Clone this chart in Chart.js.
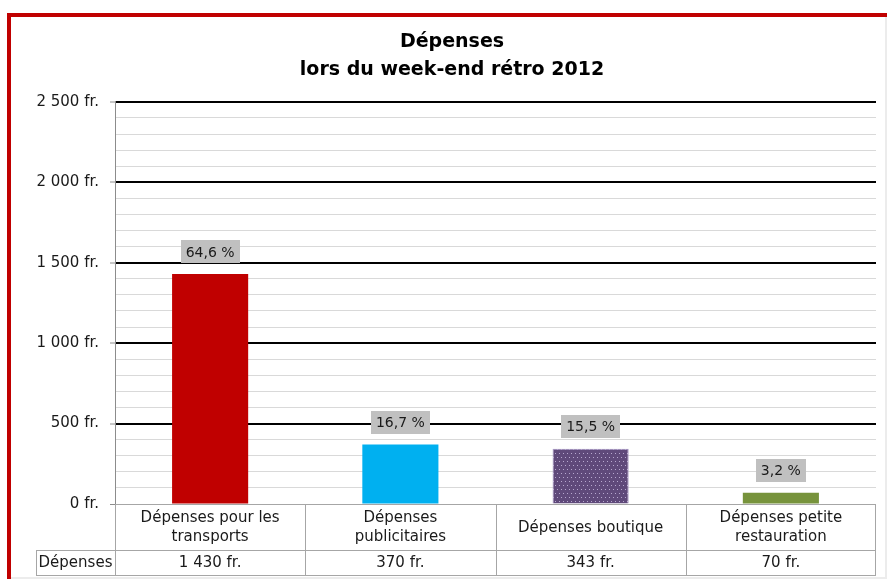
<!DOCTYPE html>
<html lang="fr">
<head>
<meta charset="utf-8">
<title>Dépenses lors du week-end rétro 2012</title>
<script src="https://cdn.jsdelivr.net/npm/chart.js@4.4.0/dist/chart.umd.min.js"></script>
<style>
  html, body { margin: 0; padding: 0; background: #fff; overflow: hidden; }
  #wrap { width: 887px; height: 579px; }
</style>
</head>
<body>
<div id="wrap"><canvas id="chart" width="887" height="579"></canvas></div>
<script>
// --- data ---
const categories = [
    ['Dépenses pour les', 'transports'],
    ['Dépenses', 'publicitaires'],
    ['Dépenses boutique'],
    ['Dépenses petite', 'restauration']
];
const seriesName = 'Dépenses';
const amounts = [1430, 370, 343, 70];
const shares = [64.6, 16.7, 15.5, 3.2];
const yTickLabels = [0, 500, 1000, 1500, 2000, 2500];
const titleLines = ['Dépenses', 'lors du week-end rétro 2012'];

const FONT = "'DejaVu Sans', sans-serif";

function fmtAmount(v) {
    return String(v).replace(/\B(?=(\d{3})+(?!\d))/g, ' ') + ' fr.';
}
function fmtShare(v) {
    return v.toFixed(1).replace('.', ',') + ' %';
}

const canvas = document.getElementById('chart');
const ctx = canvas.getContext('2d');

// dotted fill used by the "boutique" bar
function dotPattern() {
    const tile = document.createElement('canvas');
    tile.width = 8; tile.height = 8;
    const g = tile.getContext('2d');
    g.fillStyle = '#5F497A';
    g.fillRect(0, 0, 8, 8);
    g.fillStyle = '#B7A8CF';
    [[1, 1], [5, 1], [3, 5], [7, 5]].forEach(p => g.fillRect(p[0], p[1], 1, 1));
    return ctx.createPattern(tile, 'repeat');
}

// white page + red frame
const framePlugin = {
    id: 'frame',
    beforeDraw(chart) {
        const c = chart.ctx;
        c.save();
        c.fillStyle = '#fff';
        c.fillRect(0, 0, chart.width, chart.height);
        c.strokeStyle = '#ECECEC';
        c.lineWidth = 2;
        c.beginPath();
        c.moveTo(886, 17); c.lineTo(886, 579);
        c.moveTo(11, 578); c.lineTo(887, 578);
        c.stroke();
        c.strokeStyle = '#C00000';
        c.lineWidth = 4;
        c.strokeRect(9, 15, 900, 600);
        c.restore();
    }
};

// grey boxes with the share above each bar
const shareLabels = {
    id: 'shareLabels',
    afterDatasetsDraw(chart) {
        const c = chart.ctx;
        const meta = chart.getDatasetMeta(0);
        c.save();
        c.font = '14px ' + FONT;
        c.textAlign = 'center';
        c.textBaseline = 'middle';
        meta.data.forEach((bar, i) => {
            const txt = fmtShare(shares[i]);
            const w = c.measureText(txt).width + 10;
            const cy = bar.y - 22;
            c.fillStyle = '#C0C0C0';
            c.fillRect(Math.round(bar.x - w / 2), Math.round(cy - 11.5), Math.round(w), 23);
            c.fillStyle = '#1a1a1a';
            c.fillText(txt, bar.x, cy + 1);
        });
        c.restore();
    }
};

// data table under the plot
const dataTable = {
    id: 'dataTable',
    afterDraw(chart) {
        const c = chart.ctx;
        const xs = chart.scales.x;
        const area = chart.chartArea;
        const half = (xs.getPixelForValue(1) - xs.getPixelForValue(0)) / 2;
        const top = area.bottom;
        const mid = top + 46;
        const bot = top + 71;
        const headLeft = 36;

        c.save();
        c.strokeStyle = '#A6A6A6';
        c.lineWidth = 1;
        c.beginPath();
        c.moveTo(headLeft, mid + 0.5); c.lineTo(area.right, mid + 0.5);
        c.moveTo(headLeft, bot + 0.5); c.lineTo(area.right, bot + 0.5);
        c.moveTo(headLeft + 0.5, mid); c.lineTo(headLeft + 0.5, bot + 1);
        categories.forEach((_, i) => {
            const e = Math.round(xs.getPixelForValue(i) - half) + 0.5;
            c.moveTo(e, top); c.lineTo(e, bot + 1);
        });
        const r = Math.round(area.right) - 0.5;
        c.moveTo(r, top); c.lineTo(r, bot + 1);
        c.stroke();

        c.fillStyle = '#1a1a1a';
        c.font = '15px ' + FONT;
        c.textAlign = 'center';
        c.textBaseline = 'middle';
        const lh = 19;
        categories.forEach((lines, i) => {
            const cx = xs.getPixelForValue(i);
            const cy = (top + mid) / 2 + 1;
            lines.forEach((ln, k) => {
                c.fillText(ln, cx, cy + (k - (lines.length - 1) / 2) * lh);
            });
            c.fillText(fmtAmount(amounts[i]), cx, (mid + bot) / 2 + 1);
        });
        c.fillText(seriesName, (headLeft + area.left) / 2, (mid + bot) / 2 + 1);
        c.restore();
    }
};

new Chart(ctx, {
    type: 'bar',
    data: {
        labels: categories,
        datasets: [{
            label: seriesName,
            data: amounts,
            backgroundColor: ['#C00000', '#00B0F0', dotPattern(), '#77933C'],
            borderColor: ['#C00000', '#00B0F0', '#9D8BBF', '#77933C'],
            borderWidth: [0, 0, 1, 0],
            categoryPercentage: 1,
            barPercentage: 0.4
        }]
    },
    options: {
        responsive: false,
        animation: false,
        layout: { padding: { left: 28, right: 11, top: 14, bottom: 75 } },
        plugins: {
            legend: { display: false },
            tooltip: { enabled: false },
            title: {
                display: true,
                text: titleLines,
                color: '#000',
                font: { family: FONT, size: 19, weight: 'bold', lineHeight: 1.47 },
                padding: { top: 14, bottom: 18 }
            }
        },
        scales: {
            x: {
                display: false
            },
            y: {
                min: 0,
                max: 2500,
                afterFit(scale) { scale.width = 87; },
                border: { display: true, color: '#8C8C8C', width: 1 },
                grid: {
                    color: c => c.tick.value === 0 ? '#A6A6A6'
                        : (c.tick.value % 500 === 0 ? '#000' : '#D9D9D9'),
                    lineWidth: c => (c.tick.value !== 0 && c.tick.value % 500 === 0) ? 2 : 1,
                    tickColor: c => c.tick.value % 500 === 0 ? '#8C8C8C' : 'rgba(0,0,0,0)',
                    tickWidth: 1,
                    tickLength: 5
                },
                ticks: {
                    stepSize: 100,
                    autoSkip: false,
                    padding: 11,
                    color: '#1a1a1a',
                    font: { family: FONT, size: 15 },
                    callback: v => yTickLabels.includes(v) ? fmtAmount(v) : ''
                }
            }
        }
    },
    plugins: [framePlugin, shareLabels, dataTable]
});
</script>
</body>
</html>
